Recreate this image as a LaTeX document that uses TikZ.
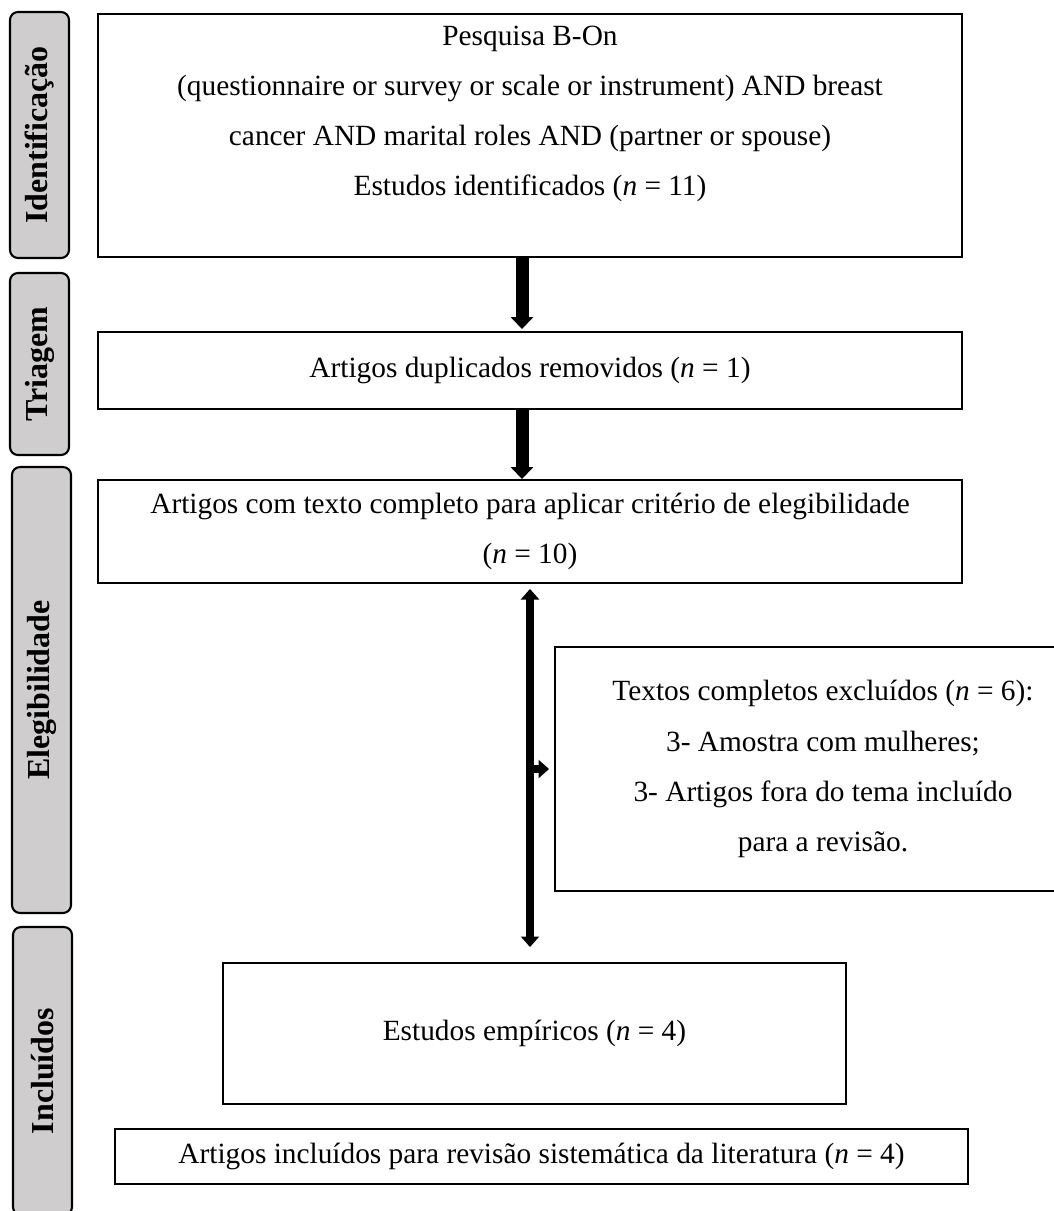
\documentclass[tikz,border=0pt]{standalone}
\usepackage{fontspec}
\setmainfont{Liberation Serif}
\usetikzlibrary{arrows.meta}

\definecolor{bandgray}{RGB}{207,205,206}

\begin{document}
\begin{tikzpicture}[x=0.02cm,y=-0.02cm,
box/.style={draw,line width=1.1pt,inner sep=0pt,align=center,font=\fontsize{16.7}{28.5}\selectfont},
band/.style={draw,line width=1.2pt,fill=bandgray,rounded corners=4.5pt,rotate=90,minimum height=1.18cm,inner sep=0pt,font=\fontsize{18.2}{20}\selectfont\bfseries},
bigarrow/.style={line width=7.4pt,-{Triangle[width=12.5pt,length=6.8pt]}},
smallarrow/.style={line width=4pt,-{Triangle[width=10.2pt,length=6pt]}}
]
\useasboundingbox (0,0) rectangle (1054,1211);

% fases
\node[band,minimum width=4.92cm] (ident) at (39.5,135) {Identificação};
\node[band,minimum width=3.64cm] (triag) at (39.5,364) {Triagem};
\node[band,minimum width=8.92cm] (eleg) at (41.5,690) {Elegibilidade};
\node[band,minimum width=5.76cm] (inclu) at (42.5,1071) {Incluídos};

% caixas
\node[box,minimum width=17.28cm,minimum height=4.86cm] (search) at (530,135.5) {Pesquisa B-On\\(questionnaire or survey or scale or instrument) AND breast\\cancer AND marital roles AND (partner or spouse)\\Estudos identificados (\textit{n} = 11)\\\mbox{}};
\node[box,minimum width=17.28cm,minimum height=1.54cm] (dupl) at (530,370.5) {Artigos duplicados removidos (\textit{n} = 1)};
\node[box,minimum width=17.28cm,minimum height=2.06cm] (full) at (530,531.5) {Artigos com texto completo para aplicar critério de elegibilidade\\(\textit{n} = 10)};
\node[box,minimum width=10.72cm,minimum height=4.88cm] (excl) at (823,769) {Textos completos excluídos (\textit{n} = 6):\\3- Amostra com mulheres;\\3- Artigos fora do tema incluído\\para a revisão.};
\node[box,minimum width=12.46cm,minimum height=2.82cm] (empir) at (534.5,1033.5) {Estudos empíricos (\textit{n} = 4)};
\node[box,minimum width=17.06cm,minimum height=1.10cm] (incl) at (541.5,1156.5) {Artigos incluídos para revisão sistemática da literatura (\textit{n} = 4)};

\coordinate (split) at (530,769);

% setas
\draw[bigarrow,shorten >=0.04cm] ([xshift=-0.16cm]search.south) -- ([xshift=-0.16cm]dupl.north);
\draw[bigarrow] ([xshift=-0.16cm]dupl.south) -- ([xshift=-0.16cm]full.north);
\draw[smallarrow,{Triangle[width=10.2pt,length=6pt]}-{Triangle[width=10.2pt,length=6pt]},shorten <=0.1cm,shorten >=0.3cm] (full.south) -- (full.south |- empir.north);
\draw[smallarrow,shorten >=0.1cm] (split) -- (excl.west);
\end{tikzpicture}
\end{document}
